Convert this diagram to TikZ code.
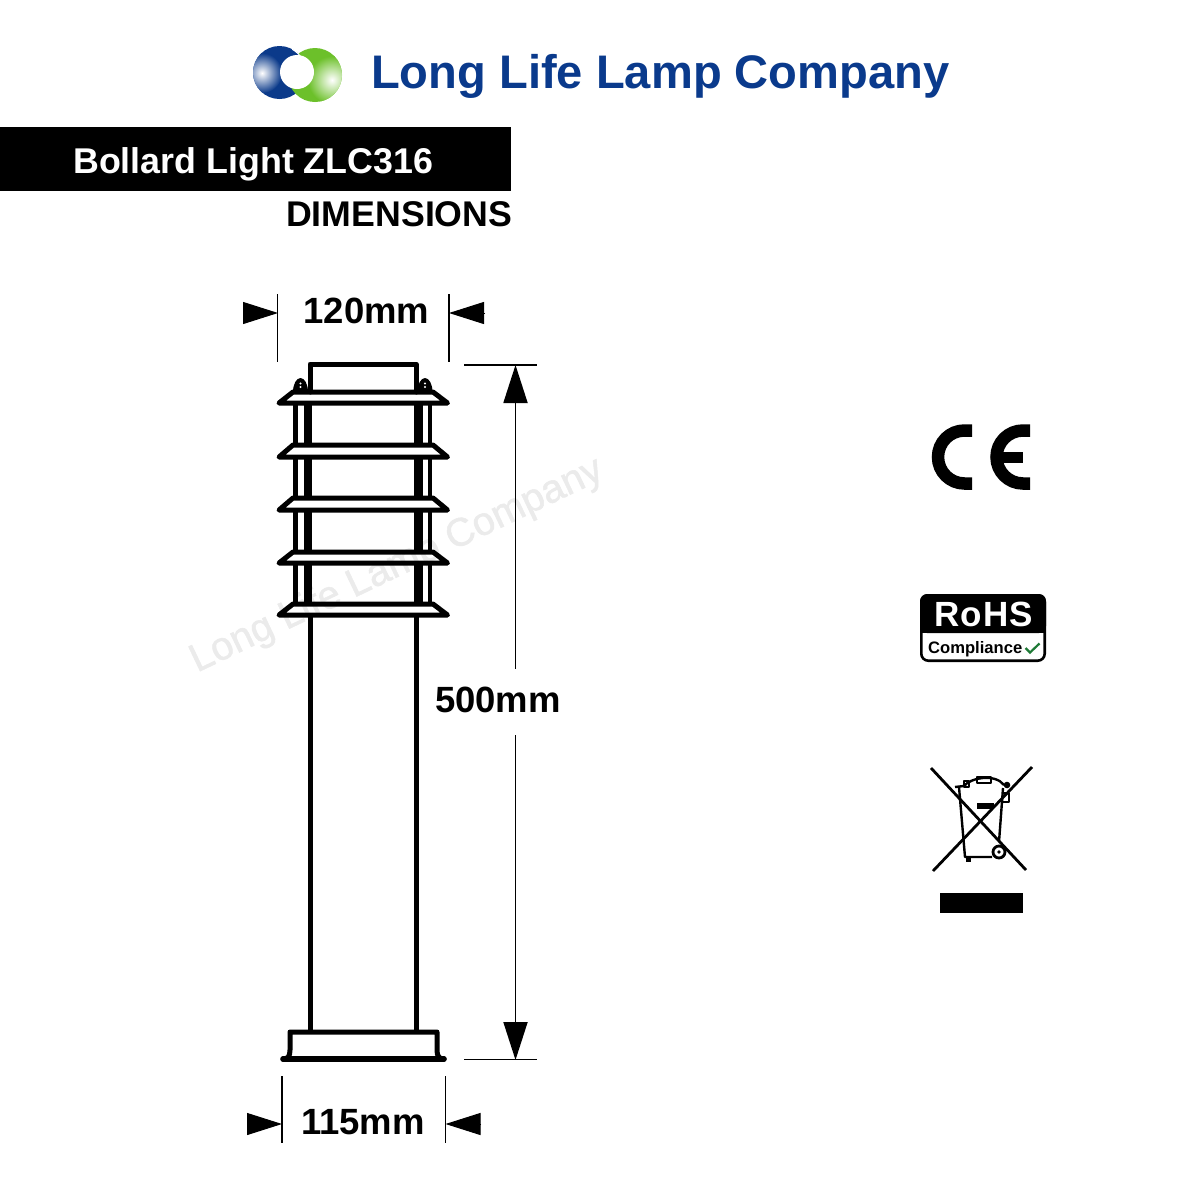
\documentclass[tikz,border=0pt]{standalone}
\usepackage{fontspec}
\setmainfont{Liberation Sans}
\newfontfamily\wmfont[RawFeature={embolden=1.2}]{Liberation Sans}
\usetikzlibrary{arrows.meta}
\definecolor{llblue}{HTML}{0B3A8A}
\definecolor{llgreen}{HTML}{6CC02A}
\definecolor{titleblue}{HTML}{0A3A8C}
\definecolor{wmark}{HTML}{EBEBEB}
\definecolor{tick}{HTML}{1E7A36}
\newcommand{\fsz}[1]{\fontsize{#1}{#1}\selectfont}
\tikzset{
  lampline/.style={line width=5pt,line join=round,line cap=round},
  rail/.style={line width=8.5pt},
  thinrail/.style={line width=4.6pt},
  witness/.style={line width=1.7pt},
  dimtipH/.style={line width=1pt,-{Triangle[length=35pt,width=22pt]}},
  dimtipV/.style={line width=1.8pt,{Triangle[length=38pt,width=24pt]}-},
  dimlabel/.style={font=\bfseries\fsz{36.5},inner sep=0pt,text=black},
  binline/.style={line width=2.4pt,line join=round},
  crossline/.style={line width=2.8pt}
}
\begin{document}
\begin{tikzpicture}[x=1pt,y=-1pt]
\useasboundingbox (0,0) rectangle (1200,1200);
\fill[white] (0,0) rectangle (1200,1200);

% watermark
\node[font=\wmfont\fsz{39.5},text=wmark,rotate=25.5,inner sep=0pt] (watermark) at (397,566) {Long Life Lamp Company};

% logo
\fill[llblue] (279.5,72.5) circle (26.5);
\begin{scope}
  \clip (279.5,72.5) circle (26.5);
  \shade[inner color=white,outer color=llblue] (262,73) circle (20);
\end{scope}
\fill[llgreen] (315,75) circle (27);
\begin{scope}
  \clip (315,75) circle (27);
  \shade[inner color=white,outer color=llgreen] (332,80) circle (24);
\end{scope}
\begin{scope}
  \clip (292,40) rectangle (330,70);
  \draw[white,line width=1pt,fill=llblue] (279.5,72.5) circle (26.5);
\end{scope}
\fill[white] (297,72) circle (17);

% title
\node[anchor=base west,inner sep=0pt,font=\bfseries\fsz{47.1},text=titleblue] (title) at (371,88) {Long Life Lamp Company};

% bar
\fill[black] (0,127) rectangle (511,191);
\node[anchor=base west,inner sep=0pt,font=\bfseries\fsz{35.8},text=white] (product) at (73,173) {Bollard Light ZLC316};
\node[anchor=base west,inner sep=0pt,font=\bfseries\fsz{35.7},text=black] (dims) at (286,226) {DIMENSIONS};

% lamp: rails
\foreach \a/\b in {403/445,457/498,510/552,563/604}{
  \draw[thinrail] (295.5,\a) -- (295.5,\b);
  \draw[rail] (308,\a) -- (308,\b);
  \draw[rail] (418.5,\a) -- (418.5,\b);
  \draw[thinrail] (430,\a) -- (430,\b);
}
% cap
\draw[lampline] (310,392) -- (310,364) -- (416,364) -- (416,392);
% bolts
\foreach \x in {300.5,425}{
  \fill[black] (\x-7.5,392) arc[start angle=180,end angle=360,x radius=7.5,y radius=14] -- cycle;
  \fill[white] (\x,383.5) circle (1.1);
  \fill[white] (\x,387) circle (1.1);
}
% louvres
\foreach \t/\b in {392/403,445/457,498/510,552/563,604/615}{
  \draw[lampline] (293,\t) -- (433,\t) -- (447.5,\b) -- (279,\b) -- cycle;
}
% pole
\draw[line width=5pt] (310,615) -- (310,1032);
\draw[line width=5pt] (416,615) -- (416,1032);
% base
\draw[lampline] (283,1059) .. controls (288,1059) and (290,1056) .. (290,1050) -- (290,1032) -- (437,1032) -- (437,1050) .. controls (437,1056) and (439,1059) .. (444,1059);
\draw[line width=5.5pt,line cap=round] (283,1059) -- (444,1059);

% dimension 120
\coordinate (w120lt) at (277.5,294);
\coordinate (w120lb) at (277.5,362);
\coordinate (w120rt) at (449,294);
\coordinate (w120rb) at (449,362);
\draw[witness] (w120lt) -- (w120lb);
\draw[witness] (w120rt) -- (w120rb);
\coordinate (a120l) at (243,313);
\coordinate (a120le) at (278,313);
\coordinate (a120r) at (485,313);
\coordinate (a120re) at (449,313);
\draw[dimtipH] (a120l) -- (a120le);
\draw[dimtipH] (a120r) -- (a120re);
\node[dimlabel] (lbl120) at (366.5,311) {120mm};

% dimension 500
\coordinate (e500tl) at (464,365);
\coordinate (e500tr) at (537,365);
\coordinate (e500bl) at (464,1059.5);
\coordinate (e500br) at (537,1059.5);
\draw[witness] (e500tl) -- (e500tr);
\draw[witness] (e500bl) -- (e500br);
\coordinate (a500t) at (515.5,365);
\coordinate (a500b) at (515.5,1060);
\node[dimlabel,minimum height=60pt] (lbl500) at (498,699.5) {500mm};
\draw[dimtipV] (a500t) -- (a500t |- lbl500.north);
\draw[dimtipV,shorten >=5pt] (a500b) -- (a500b |- lbl500.south);

% dimension 115
\coordinate (w115lt) at (282,1076);
\coordinate (w115lb) at (282,1143);
\coordinate (w115rt) at (445.5,1076);
\coordinate (w115rb) at (445.5,1143);
\draw[witness] (w115lt) -- (w115lb);
\draw[witness] (w115rt) -- (w115rb);
\coordinate (a115l) at (247,1124);
\coordinate (a115le) at (282,1124);
\coordinate (a115r) at (481,1124);
\coordinate (a115re) at (445.5,1124);
\draw[dimtipH] (a115l) -- (a115le);
\draw[dimtipH] (a115r) -- (a115re);
\node[dimlabel] (lbl115) at (363,1122) {115mm};

% CE
\draw[line width=12.5pt] (972,430.5) -- (964.5,430.5) arc[start angle=-90,end angle=-270,radius=26.5] -- (972,483.5);
\draw[line width=12.5pt] (1030,430.5) -- (1023,430.5) arc[start angle=-90,end angle=-270,radius=26.5] -- (1030,483.5);
\fill[black] (1000,452) rectangle (1023,463);

% RoHS
\draw[black,fill=white,line width=2.6pt,rounded corners=7pt] (921.3,595.3) rectangle (1044.7,660.7);
\fill[black,rounded corners=7pt] (920,594) -- (1046,594) -- (1046,633) -- (920,633) -- cycle;
\fill[black] (920,622) rectangle (1046,633);
\node[inner sep=0pt,font=\bfseries\fsz{35},text=white] (rohs) at (983.5,614) {R\kern1pt o\kern1pt H\kern1pt S};
\node[inner sep=0pt,font=\bfseries\fsz{16.6},text=black,anchor=base west] (compliance) at (928,653) {Compliance};
\draw[tick,line width=2.2pt] (1025.5,648) -- (1030,652.5) -- (1039.5,643.5);

% WEEE
\draw[binline] (959,787) -- (965,857) -- (992,857);
\draw[binline] (1003,788) -- (999,842);
\draw[binline] (955,787) -- (964,786) .. controls (970,778) and (995,773) .. (1004,785);
\draw[binline,line width=1.8pt] (977,777) rectangle (991,783);
\draw[binline,line width=1.8pt] (964,781) rectangle (969,787);
\fill[black] (977,803) rectangle (994,809);
\fill[black] (1007,785) circle (3.3);
\draw[binline,line width=1.6pt] (1002,793) -- (1009,793) -- (1009,802) -- (1002,802);
\draw[black,line width=2.8pt] (999,852) circle (6);
\fill[black] (999,852) circle (1.8);
\fill[black] (966,857) rectangle (971,862);
\draw[crossline] (931,768) -- (1026,870);
\draw[crossline] (1032,767) -- (933,871);
\fill[black] (940,893) rectangle (1023,913);
\end{tikzpicture}
\end{document}
